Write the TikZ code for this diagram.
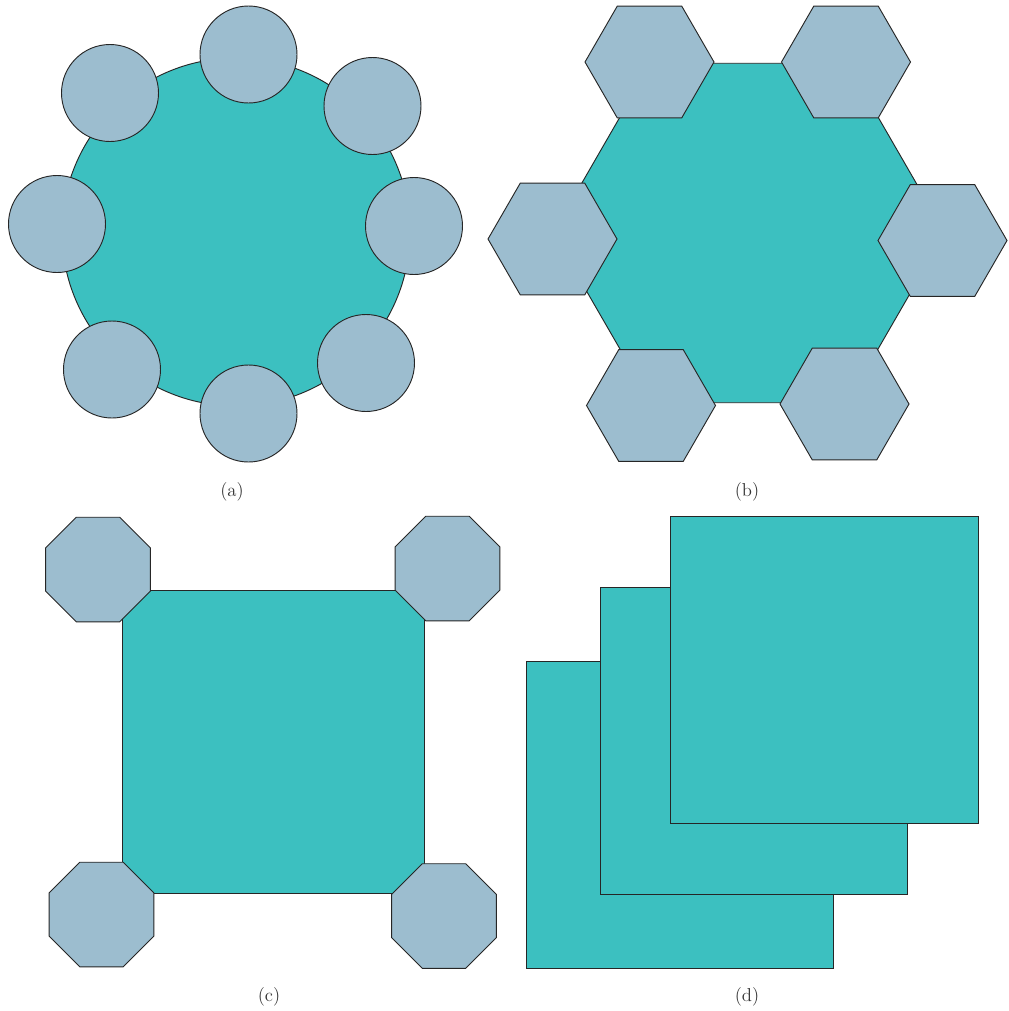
\documentclass[tikz,border=0pt]{standalone}
\definecolor{teal}{RGB}{60,192,192}
\definecolor{lblue}{RGB}{156,189,207}
\tikzset{
  bigshape/.style={fill=teal,draw=black!85,line width=0.7pt,line join=miter},
  smallshape/.style={fill=lblue,draw=black!85,line width=0.7pt,line join=miter},
  cap label/.style={font=\fontsize{14}{16}\selectfont,text=black!80,inner sep=0pt}
}
\begin{document}
\begin{tikzpicture}[x=0.75pt,y=-0.75pt]
\useasboundingbox (0,0) rectangle (1009,1011);
\fill[white] (0,0) rectangle (1009,1011);
% (a)
\draw[bigshape] (236,232) circle[radius=174];
\foreach \cx/\cy in {248.5/54.5, 110/93, 372.5/106, 57/224, 414/226, 112/369.5, 248.5/413.5, 366/363}
  \draw[smallshape] (\cx,\cy) circle[radius=48.5];
\node[cap label] (la) at (232,492) {(a)};
% (b)
\draw[bigshape,shift={(749,233)}] (0:196) -- (60:196) -- (120:196) -- (180:196) -- (240:196) -- (300:196) -- cycle;
\foreach \cx/\cy in {649.5/62, 846/62, 552.5/239, 942.5/240.5, 651/405.5, 844.5/404}
  \draw[smallshape,shift={(\cx,\cy)}] (0:64.5) -- (60:64.5) -- (120:64.5) -- (180:64.5) -- (240:64.5) -- (300:64.5) -- cycle;
\node[cap label] (lb) at (747,492) {(b)};
% (c)
\draw[bigshape] (122,590) rectangle (424,893);
\foreach \cx/\cy in {98/569.5, 447.5/568.5, 101.5/914.5, 444/916}
  \draw[smallshape,shift={(\cx,\cy)}] (22.5:56.6) -- (67.5:56.6) -- (112.5:56.6) -- (157.5:56.6) -- (202.5:56.6) -- (247.5:56.6) -- (292.5:56.6) -- (337.5:56.6) -- cycle;
\node[cap label] (lc) at (269,997) {(c)};
% (d)
\draw[bigshape] (526,661) rectangle (833,968);
\draw[bigshape] (600,587) rectangle (907,894);
\draw[bigshape] (670,516) rectangle (978,823);
\node[cap label] (ld) at (747,997) {(d)};
\end{tikzpicture}
\end{document}
